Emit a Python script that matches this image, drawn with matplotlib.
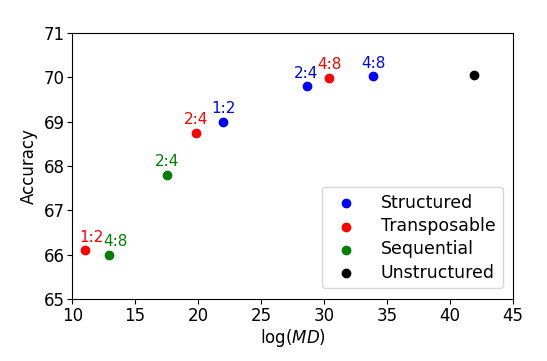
import matplotlib
matplotlib.use("Agg")
import matplotlib.pyplot as plt

structured_x = [22.0, 28.6, 33.9]
structured_y = [69.0, 69.8, 70.02]
structured_lbl = ["1:2", "2:4", "4:8"]

transposable_x = [11.0, 19.8, 30.4]
transposable_y = [66.1, 68.75, 69.99]
transposable_lbl = ["1:2", "2:4", "4:8"]

sequential_x = [12.9, 17.5]
sequential_y = [65.99, 67.8]
sequential_lbl = ["4:8", "2:4"]

unstructured_x = [41.9]
unstructured_y = [70.05]

fig = plt.figure(figsize=(5.47, 3.61), dpi=100)
ax = fig.add_axes([0.132, 0.172, 0.806, 0.737])

groups = [
    ("Structured", "blue", structured_x, structured_y, structured_lbl),
    ("Transposable", "red", transposable_x, transposable_y, transposable_lbl),
    ("Sequential", "green", sequential_x, sequential_y, sequential_lbl),
    ("Unstructured", "black", unstructured_x, unstructured_y, None),
]
for name, c, xs, ys, lbls in groups:
    ax.scatter(xs, ys, color=c, label=name, s=36, zorder=3)
    if lbls:
        for x, y, l in zip(xs, ys, lbls):
            dx = 5 if (x < 14) else 0
            ax.annotate(l, (x, y), xytext=(dx, 4), textcoords="offset points",
                        ha="center", va="bottom", color=c, fontsize=11)

ax.set_xlim(10, 45)
ax.set_ylim(65, 71)
ax.set_xticks(range(10, 46, 5))
ax.set_yticks(range(65, 72))
ax.tick_params(labelsize=12, pad=2)
ax.set_xlabel(r"log($MD$)", fontsize=12, labelpad=2)
ax.set_ylabel("Accuracy", fontsize=12, labelpad=4)
ax.legend(loc="lower right", fontsize=12.5, labelspacing=0.3,
          borderaxespad=0.6, handletextpad=1.0)

fig.savefig("out.png", dpi=100)
